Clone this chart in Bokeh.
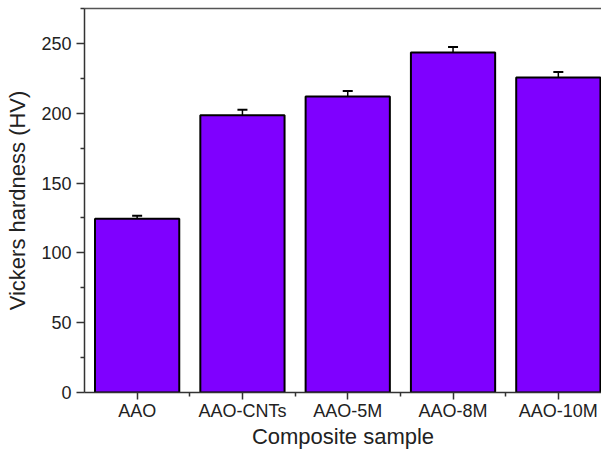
from bokeh.plotting import figure
from bokeh.models import (ColumnDataSource, Whisker, TeeHead, FixedTicker, LinearAxis,
                          Range1d)
from bokeh.embed import file_html
from bokeh.resources import INLINE

samples = ["AAO", "AAO-CNTs", "AAO-5M", "AAO-8M", "AAO-10M"]
positions = [1, 2, 3, 4, 5]
hardness = [124.5, 198.5, 212.0, 243.5, 225.5]
errors = [2.0, 4.0, 4.0, 4.0, 4.0]
y_ticks = [0, 50, 100, 150, 200, 250]

src = ColumnDataSource(dict(
    x=positions, top=hardness,
    upper=[h + e for h, e in zip(hardness, errors)],
    lower=[h - e for h, e in zip(hardness, errors)],
))

FONT = "Liberation Sans"
AXC = "#333333"
TXT = "#222222"

p = figure(width=601, height=453, output_backend="svg", toolbar_location=None,
           x_range=Range1d(0.5, 5.41), y_range=Range1d(0, 275),
           min_border_left=84, min_border_right=0, min_border_top=8,
           min_border_bottom=61, background_fill_color="white",
           border_fill_color="white")
p.outline_line_color = None
p.grid.visible = False

p.vbar(x="x", top="top", width=0.8, bottom=0, source=src,
       fill_color="#7f00ff", line_color="black", line_width=2)

w = Whisker(base="x", upper="upper", lower="lower", source=src,
            line_color="black", line_width=1.5,
            upper_head=TeeHead(size=10, line_color="black", line_width=2),
            lower_head=TeeHead(size=10, line_color="black", line_width=2))
p.add_layout(w)

xa = p.xaxis[0]
xa.ticker = FixedTicker(ticks=positions, minor_ticks=[1.5, 2.5, 3.5, 4.5])
xa.major_label_overrides = {pos: s for pos, s in zip(positions, samples)}
xa.axis_label = "Composite sample"

ya = p.yaxis[0]
ya.ticker = FixedTicker(ticks=y_ticks, minor_ticks=[25, 75, 125, 175, 225, 275])
ya.axis_label = "Vickers hardness (HV)"

for ax in (xa, ya):
    ax.axis_line_color = AXC
    ax.axis_line_width = 1.5
    ax.major_tick_line_color = AXC
    ax.minor_tick_line_color = AXC
    ax.major_tick_line_width = 1.5
    ax.minor_tick_line_width = 1.5
    ax.major_tick_out = 8
    ax.major_tick_in = 0
    ax.minor_tick_out = 4
    ax.minor_tick_in = 0
    ax.major_label_text_font = FONT
    ax.major_label_text_font_size = "18px"
    ax.major_label_text_color = TXT
    ax.axis_label_text_font = FONT
    ax.axis_label_text_font_size = "22px"
    ax.axis_label_text_font_style = "normal"
    ax.axis_label_text_color = TXT

xa.major_tick_out = 7
xa.major_label_standoff = 1
xa.axis_label_standoff = 0
ya.major_label_standoff = 5
ya.axis_label_standoff = 8

top_ax = LinearAxis(major_tick_out=0, major_tick_in=0, minor_tick_out=0,
                    minor_tick_in=0, major_label_text_font_size="0px",
                    major_label_standoff=0, axis_line_color="#555555",
                    axis_line_width=1.5, ticker=FixedTicker(ticks=[]))
p.add_layout(top_ax, "above")

open("out.html", "w").write(file_html(p, INLINE))
